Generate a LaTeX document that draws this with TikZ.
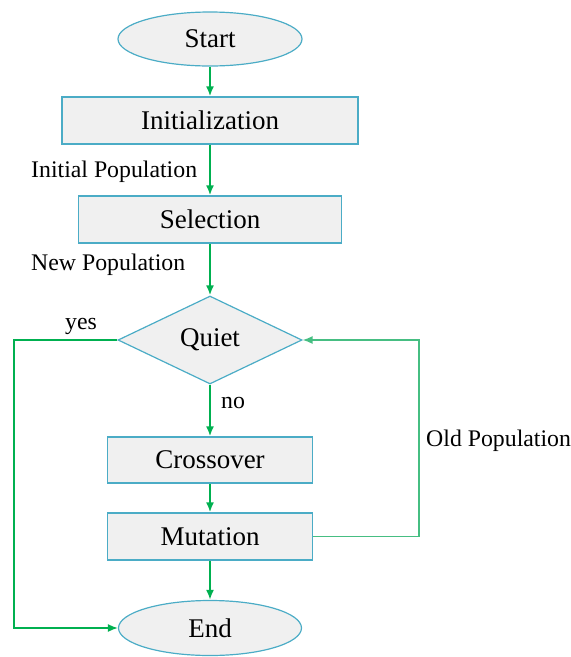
\documentclass[tikz,border=0pt]{standalone}
\usepackage{fontspec}
\setmainfont{Liberation Serif}
\usetikzlibrary{shapes.geometric,arrows.meta}
\definecolor{boxline}{RGB}{75,172,198}
\definecolor{boxfill}{RGB}{240,240,240}
\definecolor{flow}{RGB}{0,176,80}
\definecolor{loopline}{RGB}{70,190,130}
\tikzset{
	stepbox/.style={draw=boxline, fill=boxfill, line width=1.2pt, rectangle, inner sep=0pt, font=\fontsize{27}{30}\selectfont},
	term/.style={stepbox, ellipse, minimum width=184pt, minimum height=54pt},
	test/.style={stepbox, diamond, aspect=2.09, minimum width=184pt, minimum height=88pt},
	flowarrow/.style={draw=flow, line width=2pt, -{Latex[length=10pt,width=8pt]}},
	sidearrow/.style={line width=1.5pt, -{Latex[length=10pt,width=8pt]}},
	lbl/.style={font=\fontsize{23.8}{28}\selectfont, anchor=west, inner sep=0pt}
}

\begin{document}
\begin{tikzpicture}[x=1pt, y=-1pt]
			%%%%% START %%%%%
			\useasboundingbox (0, 0) rectangle (571, 657);
			
			\node[term] (start) at (210, 39) {Start};
			\node[stepbox, minimum width=296pt, minimum height=47pt] (init) at (210, 120.5) {Initialization};
			\node[stepbox, minimum width=263pt, minimum height=47pt] (sel) at (210, 219.5) {Selection};
			\node[test] (quiet) at (210, 340) {Quiet};
			\node[stepbox, minimum width=205pt, minimum height=46pt] (cross) at (210, 460) {Crossover};
			\node[stepbox, minimum width=205pt, minimum height=47pt] (mut) at (210, 536.5) {Mutation};
			\node[term, minimum width=183pt, minimum height=55pt] (end) at (210, 628) {End};
			
			\node[lbl] (initpop) at (31, 172) {Initial Population};
			\node[lbl] (newpop) at (31, 265) {New Population};
			\node[lbl] (yes) at (65, 326) {yes};
			\node[lbl] (no) at (221, 403) {no};
			\node[lbl] (oldpop) at (426, 441) {Old Population};
			
			\draw[flowarrow] (start) -- (init);
			\draw[flowarrow] (init) -- (sel);
			\draw[flowarrow] (sel) -- (quiet);
			\draw[flowarrow] (quiet) -- (cross);
			\draw[flowarrow] (cross) -- (mut);
			\draw[flowarrow] (mut) -- (end);
			
			\coordinate (yesturn) at (14, 340);
			\draw[sidearrow, color=flow] (quiet.west) -- (yesturn) |- (end.west);
			
			\coordinate (loopturn) at (419, 536.5);
			\draw[sidearrow, color=loopline] (mut.east) -- (loopturn) |- (quiet.east);
			
			%%%%% END %%%%%
		\end{tikzpicture}
\end{document}
